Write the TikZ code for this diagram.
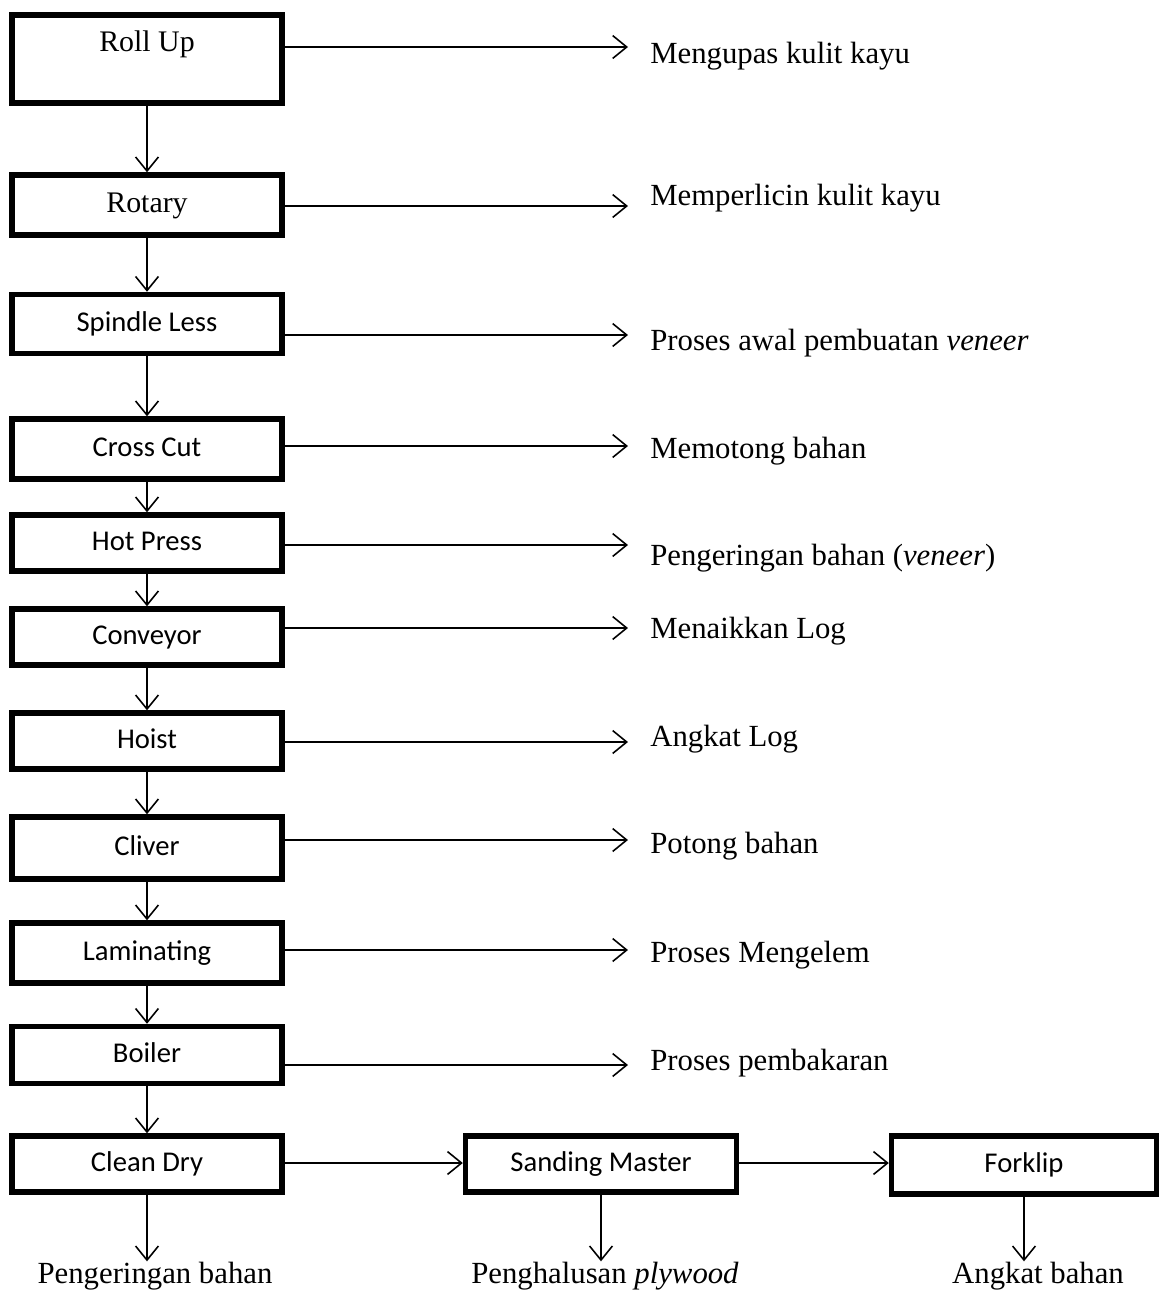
\documentclass[tikz,border=0pt]{standalone}
\usepackage{fontspec}
\setmainfont{Liberation Serif}
\newfontfamily\boxfont{Carlito}
\usepackage{tikz}
\usetikzlibrary{arrows.meta,positioning}

\begin{document}
\begin{tikzpicture}[
      x=0.02cm, y=-0.02cm,
      unit/.style={draw, line width=3.1pt, minimum width=5.4cm, inner sep=0pt,
                   text height=11pt, text depth=3pt, font=\boxfont\fontsize{16.3}{19}\selectfont},
      serifunit/.style={unit, text height=12pt, text depth=4pt, font=\fontsize{17}{20}\selectfont},
      desc/.style={anchor=base west, inner xsep=12.5pt, inner ysep=0pt, font=\fontsize{17.5}{21}\selectfont},
      result/.style={anchor=base, inner sep=0pt, font=\fontsize{17.5}{21}\selectfont},
      arrow/.style={-{Straight Barb[length=8pt,width=13pt]}, line width=0.9pt}
    ]
    \useasboundingbox (0,0) rectangle (1161,1292);
    \node[serifunit, minimum height=1.76cm, text depth=20pt] (rollup) at (147,59) {Roll Up};
    \node[serifunit, minimum height=1.2cm] (rotary) at (147,205) {Rotary};
    \node[unit, minimum height=1.18cm] (spindle) at (147,324) {Spindle Less};
    \node[unit, minimum height=1.2cm] (crosscut) at (147,449) {Cross Cut};
    \node[unit, minimum height=1.12cm] (hotpress) at (147,543) {Hot Press};
    \node[unit, minimum height=1.12cm] (conveyor) at (147,637) {Conveyor};
    \node[unit, minimum height=1.12cm] (hoist) at (147,741) {Hoist};
    \node[unit, minimum height=1.24cm] (cliver) at (147,848) {Cliver};
    \node[unit, minimum height=1.2cm] (laminating) at (147,953) {Laminating};
    \node[unit, minimum height=1.14cm] (boiler) at (147,1055) {Boiler};
    \node[unit, minimum height=1.12cm] (cleandry) at (147,1164) {Clean Dry};
    \node[unit, minimum height=1.12cm, minimum width=5.42cm] (sanding) at (601,1164) {Sanding Master};
    \node[unit, minimum height=1.16cm, minimum width=5.3cm] (forklip) at (1024,1165) {Forklip};

    \node[desc] (drollup) at (628,63) {Mengupas kulit kayu};
    \node[desc] (drotary) at (628,205) {Memperlicin kulit kayu};
    \node[desc] (dspindle) at (628,350) {Proses awal pembuatan \textit{veneer}};
    \node[desc] (dcrosscut) at (628,458) {Memotong bahan};
    \node[desc] (dhotpress) at (628,565) {Pengeringan bahan (\textit{veneer})};
    \node[desc] (dconveyor) at (628,638) {Menaikkan Log};
    \node[desc] (dhoist) at (628,746) {Angkat Log};
    \node[desc] (dcliver) at (628,853) {Potong bahan};
    \node[desc] (dlaminating) at (628,962) {Proses Mengelem};
    \node[desc] (dboiler) at (628,1070) {Proses pembakaran};

    \node[result] (rcleandry) at (155,1283) {Pengeringan bahan};
    \node[result] (rsanding) at (605,1283) {Penghalusan \textit{plywood}};
    \node[result] (rforklip) at (1038,1283) {Angkat bahan};

    \draw[arrow] (rollup) -- (rotary);
    \draw[arrow] (rotary) -- (spindle);
    \draw[arrow] (spindle) -- (crosscut);
    \draw[arrow] (crosscut) -- (hotpress);
    \draw[arrow] (hotpress) -- (conveyor);
    \draw[arrow] (conveyor) -- (hoist);
    \draw[arrow] (hoist) -- (cliver);
    \draw[arrow] (cliver) -- (laminating);
    \draw[arrow] (laminating) -- (boiler);
    \draw[arrow] (boiler) -- (cleandry);

    \draw[arrow] (rollup.east |- 0,47) -- (drollup.west |- 0,47);
    \draw[arrow] (rotary.east |- 0,206) -- (drotary.west |- 0,206);
    \draw[arrow] (spindle.east |- 0,335) -- (dspindle.west |- 0,335);
    \draw[arrow] (crosscut.east |- 0,446) -- (dcrosscut.west |- 0,446);
    \draw[arrow] (hotpress.east |- 0,545) -- (dhotpress.west |- 0,545);
    \draw[arrow] (conveyor.east |- 0,628) -- (dconveyor.west |- 0,628);
    \draw[arrow] (hoist.east |- 0,742) -- (dhoist.west |- 0,742);
    \draw[arrow] (cliver.east |- 0,840) -- (dcliver.west |- 0,840);
    \draw[arrow] (laminating.east |- 0,950) -- (dlaminating.west |- 0,950);
    \draw[arrow] (boiler.east |- 0,1065) -- (dboiler.west |- 0,1065);

    \draw[arrow] (cleandry.east |- 0,1163) -- (sanding.west |- 0,1163);
    \draw[arrow] (sanding.east |- 0,1163) -- (forklip.west |- 0,1163);

    \draw[arrow] (cleandry.south) -- (cleandry.south |- rcleandry.north);
    \draw[arrow] (sanding.south) -- (sanding.south |- rsanding.north);
    \draw[arrow] (forklip.south) -- (forklip.south |- rforklip.north);
  \end{tikzpicture}
\end{document}
